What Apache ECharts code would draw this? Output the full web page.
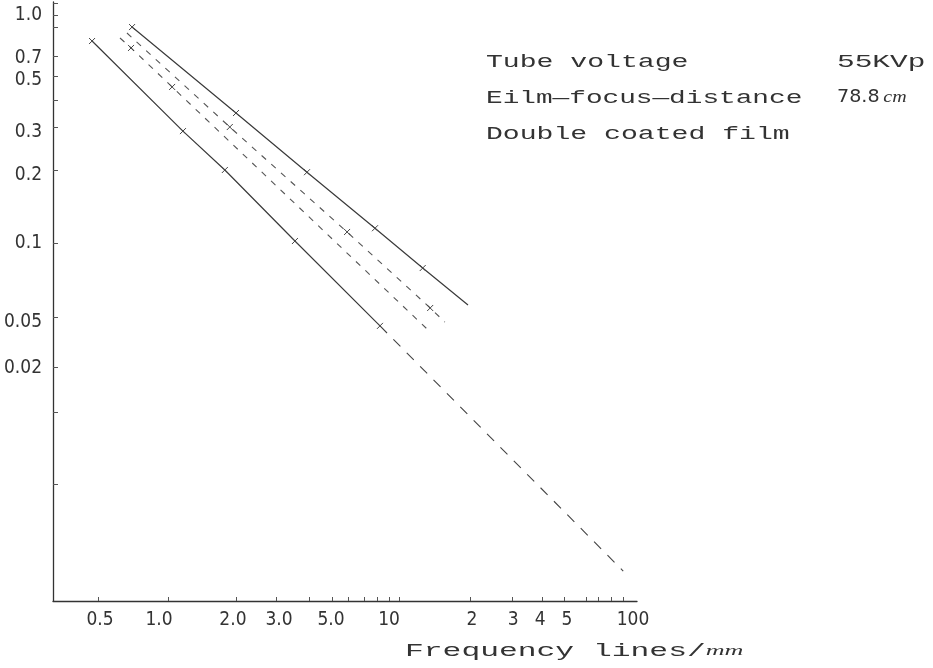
<!DOCTYPE html>
<html>
<head>
<meta charset="utf-8">
<script src="https://cdn.jsdelivr.net/npm/echarts@6/dist/echarts.min.js"></script>
<style>
  html, body { margin: 0; padding: 0; background: #fff; }
  #chart { width: 933px; height: 668px; }
</style>
</head>
<body>
<div id="chart"></div>
<script>
// Log-log plot: response vs. spatial frequency (lines/mm)

// x axis (frequency): where ticks and labels sit, and the label texts
const xTickAt = [0.5, 1.01, 1.99, 2.97, 4.13, 5.2, 6.11, 7.17, 8.17, 9.21, 10.2,
                 20.7, 31.5, 42.6, 53.1, 66.2, 74.6, 85.0, 95.8];
const xLabelAt = [0.51, 0.921, 1.93, 3.06, 5.15, 9.21, 21.1, 31.9, 41.8, 54.7, 105.9];
const xLabelText = ['0.5', '1.0', '2.0', '3.0', '5.0', '10', '2', '3', '4', '5', '100'];

// y axis (response): tick and label positions, label texts
const yTickAt = [1.129, 1.0, 0.885, 0.66, 0.539, 0.422, 0.321, 0.2076, 0.099,
                 0.0467, 0.0281, 0.0178, 0.00853];
const yLabelAt = [1.0, 0.6463, 0.5172, 0.3052, 0.1973, 0.099, 0.0444, 0.02785];
const yLabelText = ['1.0', '0.7', '0.5', '0.3', '0.2', '0.1', '0.05', '0.02'];

// measured curves: [frequency, response]
const curveA = [[0.471, 0.768], [1.17, 0.308], [1.78, 0.2076], [3.59, 0.101], [8.41, 0.0427]];
const curveAMarked = [1, 1, 1, 1, 1];
const curveAExtension = [[8.41, 0.0427], [96, 0.00355]];
const curveB = [[0.703, 0.885], [1.99, 0.370], [4.05, 0.203], [8.0, 0.115], [12.9, 0.0768], [20.3, 0.0528]];
const curveBMarked = [1, 1, 1, 1, 1, 0];
const curveC = [[0.668, 0.833], [1.87, 0.321], [6.05, 0.1107], [13.9, 0.0512], [16.1, 0.0444]];
const curveCMarked = [0, 1, 1, 1, 0];
const curveD = [[0.623, 0.792], [0.696, 0.716], [1.05, 0.482], [13.6, 0.041]];
const curveDMarked = [0, 1, 1, 0];

const X_MIN = 0.3186, X_MAX = 110.2;
const Y_MIN = 0.002621, Y_MAX = 1.141;

const INK = '#333';
const LABEL_FONT = "'Liberation Sans Narrow', 'DejaVu Sans Condensed', 'Liberation Sans', sans-serif";
const MONO = "'Liberation Mono', 'DejaVu Sans Mono', monospace";
const CROSS = 'path://M0 0L10 10M10 0L0 10';

function nearestText(v, at, texts) {
  let best = 0, bestD = Infinity;
  for (let i = 0; i < at.length; i++) {
    const d = Math.abs(Math.log(v) - Math.log(at[i]));
    if (d < bestD) { bestD = d; best = i; }
  }
  return texts[best];
}

function withMarks(points, marks) {
  return points.map((p, i) => marks && marks[i] ? { value: p } : { value: p, symbol: 'none' });
}

function lineSeries(name, data, style) {
  return {
    name: name,
    type: 'line',
    data: data,
    symbol: CROSS,
    symbolSize: 6,
    showSymbol: true,
    silent: true,
    animation: false,
    itemStyle: { color: 'none', borderColor: '#444', borderWidth: 1 },
    lineStyle: style
  };
}

const chart = echarts.init(document.getElementById('chart'), null, { renderer: 'canvas' });

chart.setOption({
  backgroundColor: '#fff',
  animation: false,
  grid: { left: 53, right: 296, top: 2, bottom: 67, outerBoundsMode: 'none', containLabel: false },
  xAxis: {
    type: 'log',
    logBase: 10,
    min: X_MIN,
    max: X_MAX,
    axisLine: { lineStyle: { color: INK, width: 1.3 } },
    axisTick: { inside: true, length: 4, customValues: xTickAt, lineStyle: { color: '#555', width: 1 } },
    axisLabel: {
      customValues: xLabelAt,
      formatter: v => nearestText(v, xLabelAt, xLabelText),
      margin: 10,
      color: INK,
      fontFamily: LABEL_FONT,
      fontSize: 19
    },
    splitLine: { show: false },
    minorTick: { show: false }
  },
  yAxis: {
    type: 'log',
    logBase: 10,
    min: Y_MIN,
    max: Y_MAX,
    axisLine: { lineStyle: { color: INK, width: 1.3 } },
    axisTick: { inside: true, length: 5, customValues: yTickAt, lineStyle: { color: '#555', width: 1 } },
    axisLabel: {
      customValues: yLabelAt,
      formatter: v => nearestText(v, yLabelAt, yLabelText),
      margin: 11,
      color: INK,
      fontFamily: LABEL_FONT,
      fontSize: 19
    },
    splitLine: { show: false },
    minorTick: { show: false }
  },
  series: [
    lineSeries('A', withMarks(curveA, curveAMarked), { color: '#3a3a3a', width: 1.2, type: 'solid' }),
    lineSeries('A extension', withMarks(curveAExtension, null), { color: '#444', width: 1.1, type: [10, 9] }),
    lineSeries('B', withMarks(curveB, curveBMarked), { color: '#3a3a3a', width: 1.2, type: 'solid' }),
    lineSeries('C', withMarks(curveC, curveCMarked), { color: '#555', width: 1.1, type: [6, 7] }),
    lineSeries('D', withMarks(curveD, curveDMarked), { color: '#555', width: 1.1, type: [6, 7] })
  ],
  graphic: [
    { type: 'text', x: 486, y: 62, scaleX: 1.48, silent: true,
      style: { text: 'Tube voltage', font: '19px ' + MONO, fill: INK, align: 'left', verticalAlign: 'middle' } },
    { type: 'text', x: 837, y: 62, scaleX: 1.55, silent: true,
      style: { text: '55KVp', font: '19px ' + MONO, fill: INK, align: 'left', verticalAlign: 'middle' } },
    { type: 'text', x: 486, y: 98, scaleX: 1.46, silent: true,
      style: { text: 'Eilm\u2014focus\u2014distance', font: '19px ' + MONO, fill: INK, align: 'left', verticalAlign: 'middle' } },
    { type: 'text', x: 837, y: 98, scaleX: 1.25, silent: true,
      style: {
        text: '{n|78.8}{u|cm}', fill: INK, align: 'left', verticalAlign: 'middle',
        rich: {
          n: { font: '17px ' + LABEL_FONT, fill: INK },
          u: { font: 'italic 16px "Liberation Serif", serif', fill: INK, padding: [0, 0, 0, 3] }
        }
      } },
    { type: 'text', x: 486, y: 134, scaleX: 1.48, silent: true,
      style: { text: 'Double coated film', font: '19px ' + MONO, fill: INK, align: 'left', verticalAlign: 'middle' } },
    { type: 'text', x: 405, y: 651, scaleX: 1.74, silent: true,
      style: {
        text: '{t|Frequency lines/}{u|mm}', fill: INK, align: 'left', verticalAlign: 'middle',
        rich: {
          t: { font: '18px ' + MONO, fill: INK },
          u: { font: 'italic 15px "Liberation Serif", serif', fill: INK }
        }
      } }
  ]
});
</script>
</body>
</html>
